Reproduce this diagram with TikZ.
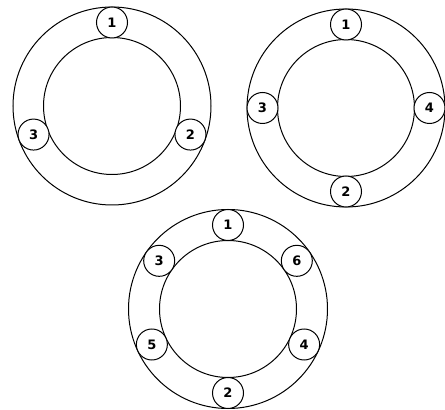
\documentclass[tikz,border=0pt]{standalone}
\usepackage{fontspec}
\setsansfont{DejaVu Sans}
\usepackage{tikz}
\begin{document}
\begin{tikzpicture}[
    x=1pt, y=1pt,
    ring/.style={draw, circle, line width=1pt, inner sep=0pt},
    seat/.style={draw, circle, fill=white, line width=1pt, inner sep=0pt,
                 minimum size=31pt, font=\sffamily\bfseries\fontsize{13}{13}\selectfont}
]
\useasboundingbox (0,0) rectangle (445,410);

% Centres of the three rings
\coordinate (cA) at (112,304);
\coordinate (cB) at (346,302);
\coordinate (cC) at (228,101);

% Ring A (three seats)
\node[ring, minimum size=198pt] (outA) at (cA) {};
\node[ring, minimum size=137pt] (inA)  at (cA) {};
\node[seat] (a1) at ([shift={(90:83.5)}]cA)  {1};
\node[seat] (a2) at ([shift={(-20:83.5)}]cA) {2};
\node[seat] (a3) at ([shift={(200:83.5)}]cA) {3};

% Ring B (four seats)
\node[ring, minimum size=198pt] (outB) at (cB) {};
\node[ring, minimum size=137pt] (inB)  at (cB) {};
\node[seat] (b1) at ([shift={(90:83.5)}]cB)  {1};
\node[seat] (b2) at ([shift={(270:83.5)}]cB) {2};
\node[seat] (b3) at ([shift={(180:83.5)}]cB) {3};
\node[seat] (b4) at ([shift={(0:83.5)}]cB)   {4};

% Ring C (six seats)
\node[ring, minimum size=199pt] (outC) at (cC) {};
\node[ring, minimum size=137pt] (inC)  at (cC) {};
\node[seat] (c1) at ([shift={(90:84)}]cC)  {1};
\node[seat] (c2) at ([shift={(270:84)}]cC) {2};
\node[seat] (c3) at ([shift={(145:84)}]cC) {3};
\node[seat] (c4) at ([shift={(-25:84)}]cC) {4};
\node[seat] (c5) at ([shift={(205:84)}]cC) {5};
\node[seat] (c6) at ([shift={(35:84)}]cC)  {6};

\end{tikzpicture}
\end{document}
